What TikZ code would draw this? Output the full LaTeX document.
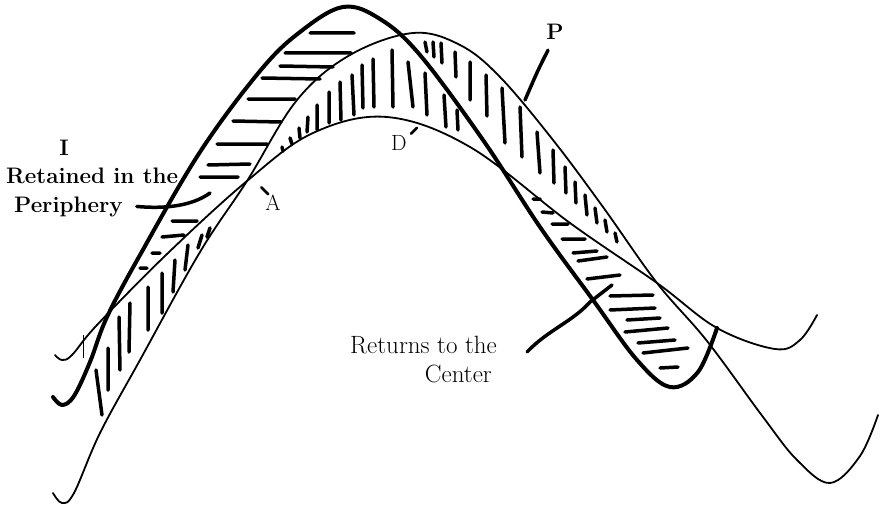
\documentclass[tikz,border=0pt]{standalone}
\usepackage{fontspec}
\tikzset{
    boldcurve/.style={line width=4pt, line cap=round, line join=round},
    thincurve/.style={line width=1.8pt, line cap=round, line join=round},
    hatch/.style={line width=3.5pt, line cap=round},
    leader/.style={line width=3.5pt, line cap=round},
    tick/.style={line width=2.6pt, line cap=round},
    hair/.style={line width=0.7pt},
    tag/.style={inner sep=0pt, font=\fontsize{22.4}{26}\selectfont\bfseries},
    note/.style={inner sep=0pt, font=\fontsize{25}{29}\selectfont},
    letter/.style={inner sep=0pt, font=\fontsize{22}{26}\selectfont},
}

\begin{document}
\begin{tikzpicture}[x=1pt, y=-1pt]
    \useasboundingbox (0,0) rectangle (883,511);

    % Curves
    \draw[boldcurve] plot[smooth, tension=0.6] coordinates {
        (53,397) (62,405) (74,396) (90,362) (107,317) (140,255) (200,152)
        (260,71) (300,32) (343,7) (380,19) (420,55) (483,140) (540,227)
        (593,300) (637,360) (670,387) (698,372) (717,328)};
    \draw[thincurve] plot[smooth, tension=0.6] coordinates {
        (53,493) (62,503) (74,493) (100,433) (140,360) (200,252) (247,181)
        (297,100) (350,55) (413,33) (460,45) (500,77) (553,140) (603,207)
        (657,283) (707,341) (763,417) (797,460) (830,483) (860,456) (878,415)};
    \draw[thincurve] plot[smooth, tension=0.6] coordinates {
        (55,355) (62,360) (72,355) (97,325) (167,254) (247,181) (313,133)
        (387,117) (470,147) (570,223) (657,283) (717,328) (775,349)
        (800,340) (817,315)};
    \draw[hair] (83,335) -- (83,358);

    % Hatching (retained in the periphery)
    \draw[hatch]
        (310,33) -- (354,33)  (285,53) -- (351,53)  (280,66) -- (333,67)
        (262,78) -- (320,79)  (248,99) -- (295,99)  (233,121) -- (281,122)
        (217,144) -- (267,144)  (208,165) -- (250,164)  (200,177) -- (238,177)
        (172,221) -- (197,221)  (162,237) -- (184,235)  (152,253) -- (160,253)
        (140,268) -- (147,268);

    % Hatching (band between the thin curves)
    \draw[hatch]
        (282,147) -- (283,151)  (290,138) -- (292,144)  (299,128) -- (300,138)
        (308,117) -- (307,132)  (317,105) -- (317,130)  (329,92) -- (329,123)
        (340,82) -- (341,120)  (352,75) -- (354,115)  (362,65) -- (363,108)
        (373,59) -- (374,107)  (392,50) -- (393,107)  (408,62) -- (413,107)
        (425,42) -- (427,52)  (433,42) -- (434,57)  (425,73) -- (427,115)
        (441,43) -- (442,63)  (444,95) -- (446,127)  (455,52) -- (456,77)
        (457,110) -- (458,130)  (470,62) -- (470,100)  (486,75) -- (487,116)
        (502,88) -- (505,143)  (520,107) -- (522,157)  (537,132) -- (540,173)
        (553,150) -- (554,183)  (565,167) -- (566,193)  (575,182) -- (576,203)
        (585,195) -- (587,215)  (595,208) -- (597,223)  (605,220) -- (607,232)
        (615,233) -- (617,242);
    \draw[hatch]
        (210,228) -- (207,237)  (202,235) -- (198,248)  (188,245) -- (185,270)
        (175,260) -- (173,292)  (162,273) -- (162,313)  (148,287) -- (148,330)
        (130,303) -- (129,352)  (119,317) -- (120,370)  (108,348) -- (108,390)
        (96,370) -- (102,415);

    % Hatching (returns to the center)
    \draw[hatch]
        (533,199) -- (540,199)  (542,212) -- (553,213)  (552,224) -- (568,224)
        (562,239) -- (585,239)  (573,253) -- (597,251)  (578,261) -- (607,257)
        (587,279) -- (620,275)  (610,296) -- (653,295)  (610,310) -- (655,308)
        (627,320) -- (660,318)  (625,332) -- (668,328)  (638,343) -- (675,340)
        (643,353) -- (688,348)  (660,368) -- (678,367);

    % Labels
    \node[tag, anchor=base] (lblI) at (64,155) {I};
    \node[tag, anchor=base west] (retain) at (6,183) {Retained in the};
    \node[tag, anchor=base west] (peri) at (14,212) {Periphery};
    \node[tag, anchor=base] (lblP) at (555,40) {P};
    \node[letter, anchor=base] (lblA) at (273,210) {A};
    \node[letter, anchor=base] (lblD) at (399,150) {D};
    \node[note, anchor=base east] (ret) at (497,353) {Returns to the};
    \node[note, anchor=base east] (cen) at (492,382) {Center};

    % Leaders
    \coordinate (peritip) at (210,193);
    \coordinate (ptip) at (525,100);
    \coordinate (rettip) at (612,285);
    \draw[leader] ([xshift=14pt]peri.east) .. controls (165,209) and (192,206) .. (peritip);
    \draw[leader] ([shift={(-7,10)}]lblP.south) .. controls (538,70) .. (ptip);
    \draw[leader] ([xshift=30pt, yshift=1pt]ret.base east)
        .. controls (548,330) and (572,322) .. (590,302) -- (rettip);
    \draw[tick] ([shift={(3,0)}]lblA.north west) -- ++(-7,-7);
    \draw[tick] ([shift={(4,-1)}]lblD.north east) -- ++(6,-6);

\end{tikzpicture}
\end{document}
